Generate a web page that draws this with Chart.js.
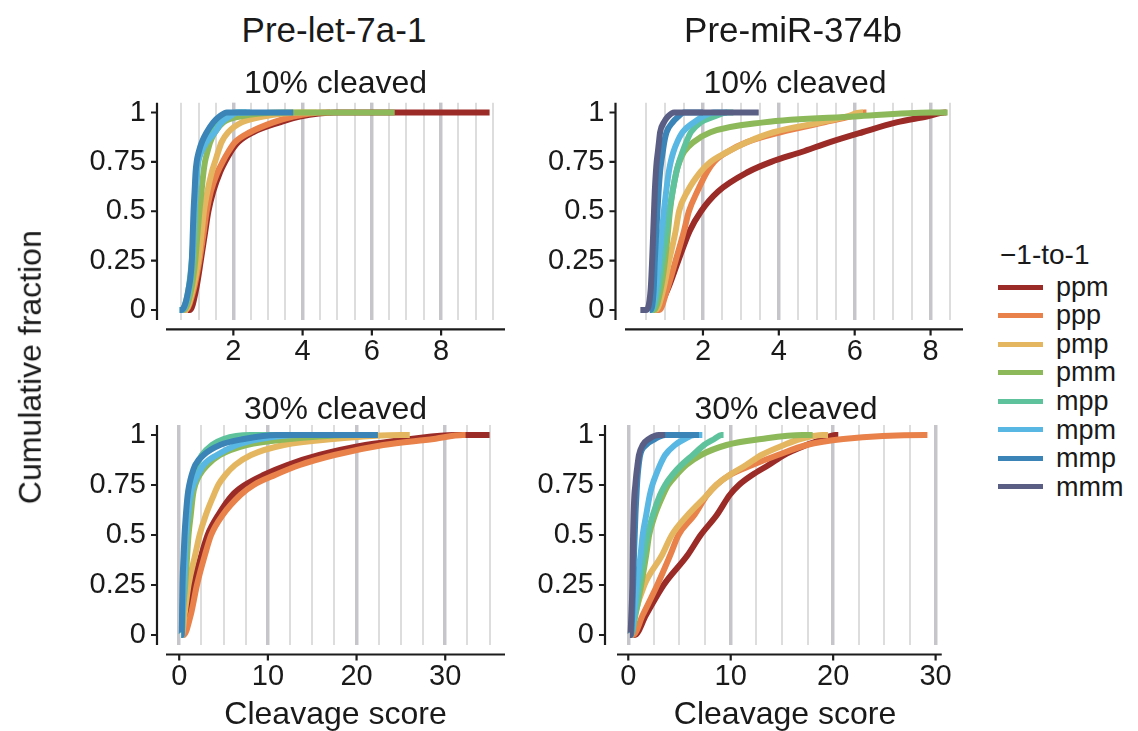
<!DOCTYPE html>
<html><head><meta charset="utf-8">
<script src="https://cdn.jsdelivr.net/npm/chart.js@4"></script>
<style>
html,body{margin:0;padding:0;background:#fff;}
body{width:1138px;height:731px;position:relative;overflow:hidden;font-family:"Liberation Sans",Arial,Helvetica,sans-serif;color:#1a1a1a;}
canvas{position:absolute;}
.t{position:absolute;white-space:nowrap;text-align:center;}
</style></head><body>
<script>
// ---------- data ----------
const SERIES = ['ppm','ppp','pmp','pmm','mpp','mpm','mmp','mmm'];
const COLORS = ['#9b2b27','#e8814a','#e4b660','#8db95b','#5ec39c','#58b7e3','#3a84b7','#5a5e85'];
// cumulative-fraction levels at which the x values below are read
const LEVELS = [0,0,0.1,0.25,0.4,0.5,0.6,0.7,0.75,0.8,0.85,0.9,0.95,0.98,1,1];
const Y_TICKS = [0,0.25,0.5,0.75,1];
const TOP_X_TICKS = [2,4,6,8];
const BOTTOM_X_TICKS = [0,10,20,30];

// Pre-let-7a-1, 10% cleaved (series order as SERIES; null = no data)
const LET7_10 = [
  [0.68,0.75,0.92,1.06,1.19,1.28,1.42,1.62,1.76,1.92,2.14,2.57,3.34,3.92,4.98,9.4],
  [0.50,0.62,0.85,1.02,1.15,1.23,1.35,1.55,1.69,1.85,2.05,2.48,3.15,3.73,4.59,4.79],
  [0.55,0.61,0.82,0.99,1.09,1.15,1.25,1.38,1.47,1.56,1.66,1.85,2.24,2.86,4.01,4.4],
  [0.50,0.56,0.78,0.90,0.97,1.02,1.08,1.14,1.18,1.25,1.33,1.47,1.71,2.19,3.44,6.66],
  [0.45,0.50,0.70,0.80,0.86,0.88,0.91,0.94,0.96,1.03,1.14,1.28,1.47,1.66,2.19,2.38],
  [0.45,0.52,0.72,0.82,0.86,0.88,0.92,0.96,0.99,1.08,1.23,1.47,1.66,1.90,2.10,2.48],
  [0.45,0.50,0.70,0.80,0.83,0.85,0.88,0.91,0.94,1.00,1.09,1.23,1.42,1.60,1.81,3.73],
  null
];
// Pre-miR-374b, 10% cleaved
const MIR374_10 = [
  [0.72,0.76,1.06,1.35,1.65,1.95,2.40,3.20,3.80,4.60,5.35,6.20,7.10,7.90,8.38,8.42],
  [0.80,0.85,1.05,1.28,1.50,1.63,1.85,2.11,2.29,2.64,3.16,4.04,5.20,5.90,6.25,6.31],
  [0.72,0.76,0.95,1.11,1.28,1.37,1.59,1.94,2.20,2.64,3.16,3.86,5.10,5.80,6.15,6.22],
  [0.66,0.71,0.88,1.00,1.08,1.13,1.20,1.30,1.38,1.50,1.75,2.20,3.60,6.00,8.00,8.45],
  [0.62,0.66,0.82,0.93,1.04,1.11,1.20,1.30,1.37,1.46,1.56,1.68,1.94,2.30,2.64,2.80],
  [0.60,0.62,0.76,0.85,0.92,0.97,1.03,1.10,1.15,1.22,1.32,1.46,1.76,2.00,2.29,2.64],
  [0.60,0.62,0.70,0.73,0.77,0.80,0.83,0.87,0.90,0.94,0.98,1.04,1.20,1.35,1.50,2.00],
  [0.35,0.50,0.62,0.66,0.69,0.71,0.73,0.76,0.78,0.81,0.84,0.87,0.97,1.08,1.24,3.47]
];
// Pre-let-7a-1, 30% cleaved
const LET7_30 = [
  [0.25,0.30,1.05,1.60,2.50,3.20,4.40,6.00,7.40,9.50,12.2,15.8,21.0,26.1,31.0,35.0],
  [0.30,0.49,1.30,2.00,2.90,3.60,4.90,6.90,8.40,10.8,13.6,17.5,23.0,28.7,32.0,32.3],
  [0.25,0.30,0.60,1.05,1.80,2.30,3.00,3.90,4.40,5.20,6.30,8.10,11.8,17.4,25.0,26.0],
  [0.25,0.30,0.40,0.68,0.90,1.05,1.30,1.55,1.80,2.30,3.20,4.60,7.60,12.5,20.0,22.4],
  [0.25,0.30,0.35,0.49,0.65,0.79,0.95,1.20,1.43,1.70,2.00,2.56,3.70,5.00,8.00,19.3],
  [0.25,0.30,0.38,0.55,0.70,0.80,1.00,1.30,1.60,2.10,2.75,4.25,6.50,9.10,13.6,16.0],
  [0.25,0.28,0.32,0.37,0.50,0.60,0.75,0.95,1.13,1.40,1.80,2.75,4.60,7.30,11.0,22.4],
  null
];
// Pre-miR-374b, 30% cleaved
const MIR374_30 = [
  [0.50,0.63,1.73,3.45,5.80,7.07,8.64,9.90,10.8,12.1,13.7,15.2,17.4,19.0,20.2,20.5],
  [0.40,0.47,1.41,2.83,4.10,4.90,6.45,7.70,8.60,9.90,12.1,14.6,17.4,21.0,29.0,29.2],
  [0.20,0.25,0.63,1.57,3.30,4.25,5.80,7.70,8.60,9.90,11.5,13.0,15.2,16.8,19.0,19.5],
  [0.20,0.25,0.70,1.26,1.75,2.04,2.60,3.40,3.90,4.70,5.66,7.10,9.60,13.0,17.0,18.0],
  [0.20,0.25,0.65,1.10,1.55,1.88,2.40,3.10,3.60,4.30,5.19,6.30,7.40,8.40,9.10,9.30],
  [0.20,0.25,0.55,0.85,1.20,1.41,1.75,2.10,2.35,2.70,3.10,3.60,4.56,5.50,6.45,7.23],
  [0.20,0.25,0.38,0.47,0.56,0.63,0.70,0.80,0.85,0.92,1.02,1.16,1.73,2.60,3.60,6.90],
  [0.16,0.20,0.30,0.40,0.44,0.47,0.52,0.60,0.69,0.78,0.90,1.04,1.41,2.00,2.98,3.60]
];

// ---------- layout ----------
const FONT = '"Liberation Sans", Arial, Helvetica, sans-serif';
const TICK_SIZE = 29;
const PANELS = [
  {data:LET7_10,  xMin:0.055, xMax:9.845, grid:[0.5,9.5,0.5], majors:TOP_X_TICKS,    left:166, right:505, y0:310, y1:112.5, yOff:9},
  {data:MIR374_10,xMin:-0.055,xMax:8.855, grid:[0.5,8.5,0.5], majors:TOP_X_TICKS,    left:625, right:963, y0:310, y1:112.5, yOff:9.5},
  {data:LET7_30,  xMin:-1.49, xMax:36.74, grid:[0,35,2.5],    majors:BOTTOM_X_TICKS, left:166, right:505, y0:635, y1:435,   yOff:9},
  {data:MIR374_30,xMin:-1.1,  xMax:30.6,  grid:[0,30,2.5],    majors:BOTTOM_X_TICKS, left:617, right:953, y0:635, y1:435,   yOff:12}
];

function axesPlugin(p){
  return {
    id:'offsetAxes',
    afterDraw(chart){
      const {ctx, chartArea:a, scales:{x,y}} = chart;
      ctx.save();
      ctx.strokeStyle = '#1c1c1c'; ctx.lineWidth = 2.2; ctx.lineCap = 'butt';
      ctx.beginPath();
      const ax = a.left - p.yOff;
      ctx.moveTo(ax, a.top); ctx.lineTo(ax, a.bottom);
      Y_TICKS.forEach(v => { const py = y.getPixelForValue(v); ctx.moveTo(ax - 6, py); ctx.lineTo(ax + 1, py); });
      const ay = a.bottom + 9.5;
      ctx.moveTo(a.left, ay); ctx.lineTo(a.right, ay);
      p.majors.forEach(v => { const px = x.getPixelForValue(v); ctx.moveTo(px, ay - 1); ctx.lineTo(px, ay + 6); });
      ctx.stroke();
      ctx.restore();
    }
  };
}

function makePanel(p){
  const yUnit = p.y0 - p.y1;
  const top = p.y1 - 0.05 * yUnit, bottom = p.y0 + 0.05 * yUnit;
  const cl = Math.floor(p.left - 120), ct = Math.floor(top - 50);
  const cr = Math.ceil(p.right + 14), cb = Math.ceil(bottom + 60);
  const cw = cr - cl, ch = cb - ct;
  const yW = p.left - cl, xH = cb - bottom, rPad = cr - p.right, tPad = top - ct;
  const cv = document.createElement('canvas');
  cv.width = cw; cv.height = ch;
  cv.style.left = cl + 'px'; cv.style.top = ct + 'px';
  cv.style.width = cw + 'px'; cv.style.height = ch + 'px';
  document.body.appendChild(cv);
  const gridVals = [];
  for (let v = p.grid[0]; v <= p.grid[1] + 1e-9; v += p.grid[2]) gridVals.push(Math.round(v * 100) / 100);
  const isMajor = v => p.majors.includes(v);
  const datasets = [];
  SERIES.forEach((name, i) => {
    const xs = p.data[i];
    if (!xs) return;
    datasets.push({
      label: name,
      data: xs.map((x, k) => ({x, y: LEVELS[k]})),
      showLine: true, borderColor: COLORS[i], backgroundColor: COLORS[i],
      borderWidth: 6, pointRadius: 0, pointHoverRadius: 0,
      cubicInterpolationMode: 'monotone',
      borderJoinStyle: 'round', order: SERIES.length - i
    });
  });
  new Chart(cv, {
    type: 'scatter',
    data: {datasets},
    options: {
      responsive: false, animation: false, devicePixelRatio: 1, events: [],
      layout: {padding: {left: 0, top: tPad, right: rPad, bottom: 0}},
      plugins: {legend: {display: false}, tooltip: {enabled: false}},
      scales: {
        x: {
          type: 'linear', min: p.xMin, max: p.xMax,
          border: {display: false},
          grid: {drawTicks: false,
                 color: c => isMajor(c.tick.value) ? '#c6c6ca' : '#dddddd',
                 lineWidth: c => isMajor(c.tick.value) ? 3.5 : 2},
          afterBuildTicks: s => { s.ticks = gridVals.map(v => ({value: v})); },
          afterFit: s => { s.height = xH; },
          ticks: {autoSkip: false, maxRotation: 0, minRotation: 0, padding: 15, color: '#1a1a1a',
                  font: {family: FONT, size: TICK_SIZE}, callback: v => isMajor(v) ? String(v) : ''}
        },
        y: {
          type: 'linear', min: -0.05, max: 1.05,
          border: {display: false},
          grid: {display: false, drawTicks: false},
          afterBuildTicks: s => { s.ticks = Y_TICKS.map(v => ({value: v})); },
          afterFit: s => { s.width = yW; },
          ticks: {padding: p.yOff + 11, color: '#1a1a1a', font: {family: FONT, size: TICK_SIZE}, callback: v => String(v)}
        }
      }
    },
    plugins: [axesPlugin(p)]
  });
}
PANELS.forEach(makePanel);

// ---------- text ----------
function label(text, cx, cy, size, rot){
  const d = document.createElement('div');
  d.className = 't';
  d.textContent = text;
  d.style.fontSize = size + 'px';
  d.style.lineHeight = (size * 1.2) + 'px';
  d.style.width = '400px';
  d.style.left = (cx - 200) + 'px';
  d.style.top = (cy - size * 0.6) + 'px';
  if (rot) d.style.transform = 'rotate(' + rot + 'deg)';
  document.body.appendChild(d);
}
label('Pre-let-7a-1', 334, 30, 35);
label('Pre-miR-374b', 793, 30, 35);
label('10% cleaved', 335.5, 82, 32);
label('10% cleaved', 795, 82, 32);
label('30% cleaved', 335.5, 408, 32);
label('30% cleaved', 786, 408, 32);
label('Cleavage score', 335.5, 713, 32);
label('Cleavage score', 785, 713, 32);
label('Cumulative fraction', 30, 367, 32, -90);

// legend
(function(){
  const t = document.createElement('div');
  t.className = 't';
  t.style.textAlign = 'left';
  t.style.left = '1000px'; t.style.top = (255 - 28*0.6) + 'px';
  t.style.fontSize = '28px'; t.style.lineHeight = (28*1.2) + 'px';
  t.textContent = '\u22121-to-1';
  document.body.appendChild(t);
  SERIES.forEach((name, i) => {
    const cy = 287 + i * 28.55;
    const ln = document.createElement('div');
    ln.style.position = 'absolute';
    ln.style.left = '998px'; ln.style.top = (cy - 2.5) + 'px';
    ln.style.width = '45px'; ln.style.height = '5px';
    ln.style.background = COLORS[i];
    document.body.appendChild(ln);
    const tx = document.createElement('div');
    tx.className = 't';
    tx.style.textAlign = 'left';
    tx.style.left = '1056px'; tx.style.top = (cy - 27*0.6) + 'px';
    tx.style.fontSize = '27px'; tx.style.lineHeight = (27*1.2) + 'px';
    tx.textContent = name;
    document.body.appendChild(tx);
  });
})();
</script>
</body></html>
